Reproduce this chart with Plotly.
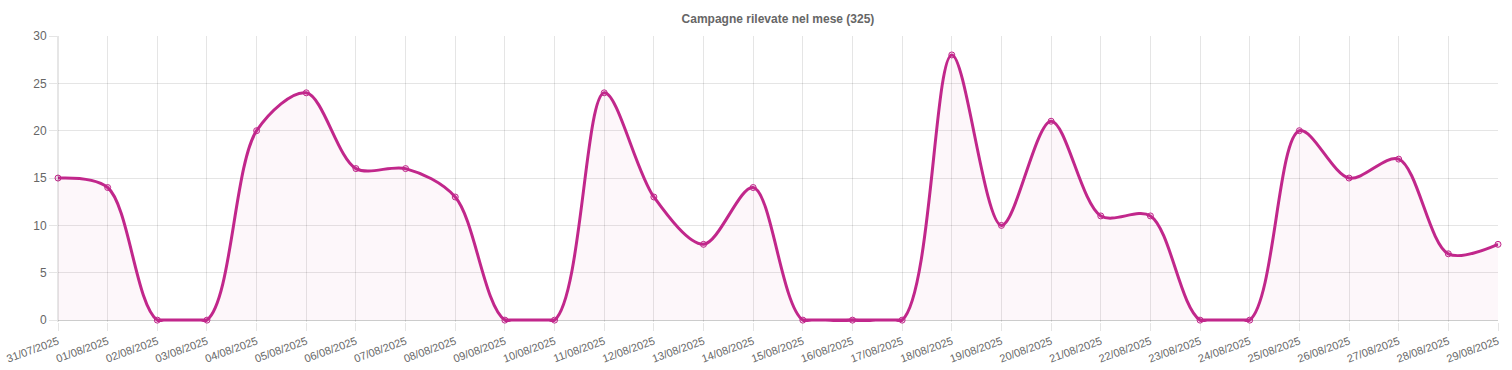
import plotly.graph_objects as go

dates = ["31/07/2025", "01/08/2025", "02/08/2025", "03/08/2025", "04/08/2025", "05/08/2025",
         "06/08/2025", "07/08/2025", "08/08/2025", "09/08/2025", "10/08/2025", "11/08/2025",
         "12/08/2025", "13/08/2025", "14/08/2025", "15/08/2025", "16/08/2025", "17/08/2025",
         "18/08/2025", "19/08/2025", "20/08/2025", "21/08/2025", "22/08/2025", "23/08/2025",
         "24/08/2025", "25/08/2025", "26/08/2025", "27/08/2025", "28/08/2025", "29/08/2025"]
campagne = [15, 14, 0, 0, 20, 24, 16, 16, 13, 0, 0, 24, 13, 8, 14, 0, 0, 0, 28, 10,
            21, 11, 11, 0, 0, 20, 15, 17, 7, 8]
y_ticks = [0, 5, 10, 15, 20, 25, 30]

line_color = "#c1278b"
xs = list(range(len(dates)))

fig = go.Figure()
fig.add_trace(go.Scatter(
    x=xs, y=campagne,
    mode="lines",
    line=dict(color=line_color, width=3, shape="spline", smoothing=0.9),
    fill="tozeroy", fillcolor="rgba(193,39,139,0.04)",
    hoverinfo="skip",
))
# flat runs at zero (the smoothed curve is capped at the axis floor, as in the original)
zero_runs = [v if v == 0 else None for v in campagne]
fig.add_trace(go.Scatter(
    x=xs, y=zero_runs, mode="lines", connectgaps=False,
    line=dict(color=line_color, width=3), hoverinfo="skip",
))
fig.add_trace(go.Scatter(
    x=xs, y=campagne, mode="markers",
    marker=dict(size=6, color="rgba(193,39,139,0.15)", line=dict(color=line_color, width=1)),
    cliponaxis=False, hoverinfo="x+y",
))

grid = "rgba(0,0,0,0.1)"
fig.update_layout(
    width=1512, height=370,
    margin=dict(l=58, r=14, t=36, b=48),
    paper_bgcolor="white", plot_bgcolor="white",
    showlegend=False,
    font=dict(family="Liberation Sans, Arial, sans-serif", size=12, color="#666"),
    title=dict(text="<b>Campagne rilevate nel mese (325)</b>", x=0.5, xref="paper",
               y=1 - 19 / 370, yanchor="middle",
               font=dict(size=12, color="#666")),
    xaxis=dict(
        range=[0, len(dates) - 1],
        tickmode="array", tickvals=xs, ticktext=dates,
        tickangle=-20, tickfont=dict(size=11),
        showgrid=True, gridcolor=grid, gridwidth=1,
        ticks="outside", ticklen=8, tickcolor=grid,
        showline=False, ticklabeloverflow="allow",
        zeroline=False, automargin=False, fixedrange=True,
    ),
    yaxis=dict(
        range=[-0.2, 30], tickmode="array", tickvals=y_ticks,
        showgrid=True, gridcolor=grid, gridwidth=1,
        ticks="outside", ticklen=8, tickcolor=grid,
        showline=False,
        zeroline=True, zerolinecolor="rgba(0,0,0,0.2)", zerolinewidth=1,
        automargin=False, fixedrange=True,
    ),
    shapes=[dict(type="line", xref="paper", yref="paper", x0=0, x1=0, y0=0, y1=1,
                 line=dict(color="rgba(0,0,0,0.2)", width=1))],
)

fig.write_html("out.html",
               config={"displayModeBar": False},
               post_script="document.body.style.margin='0';")
